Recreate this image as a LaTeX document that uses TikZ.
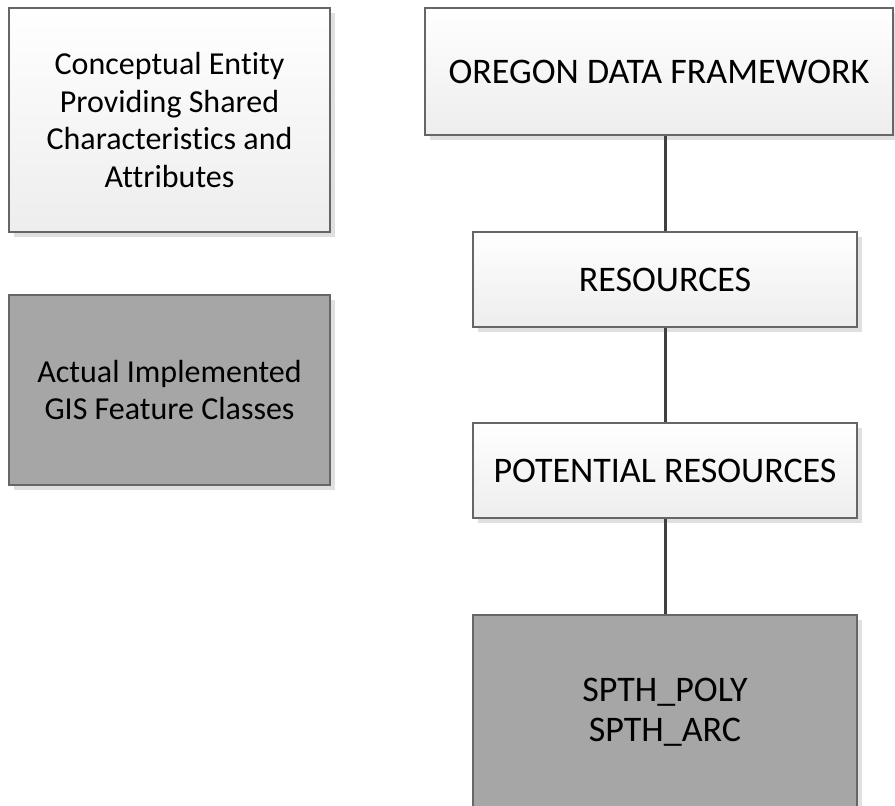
\documentclass[tikz,border=0pt]{standalone}
\usepackage{fontspec}
\setmainfont{Carlito}[Ligatures=NoCommon]
\usetikzlibrary{shadows}

\tikzstyle{box} = [draw=black!60, line width=1.3pt, align=center, inner sep=0pt,
  font=\fontsize{36}{40}\selectfont,
  drop shadow={shadow xshift=5pt, shadow yshift=-5pt, fill=black!12, opacity=1}]
\tikzstyle{concept} = [box, top color=white, bottom color=black!7]
\tikzstyle{feature} = [box, fill=black!35]
\tikzstyle{legend} = [font=\fontsize{32}{37.5}\selectfont, minimum width=321]
\tikzstyle{line} = [draw=black!75, line width=3pt]

\begin{document}
\begin{tikzpicture}[x=1pt, y=-1pt]
		\useasboundingbox (0,0) rectangle (895,806);
		% legend
		\node[concept, legend, minimum height=224] (legconcept) at (169.5,120) {Conceptual Entity\\Providing Shared\\Characteristics and\\Attributes};
		\node[feature, legend, minimum height=190] (legfeature) at (169.5,390) {Actual Implemented\\GIS Feature Classes};
		% hierarchy
		\node[concept, minimum width=468, minimum height=127] (odf) at (659,71.5) {OREGON DATA FRAMEWORK};
		\node[concept, minimum width=384, minimum height=95] (res) at (665,279.5) {RESOURCES};
		\node[concept, minimum width=384, minimum height=95] (potres) at (665,470.5) {POTENTIAL RESOURCES};
		\node[feature, minimum width=384, minimum height=194] (spth) at (665,712) {SPTH\_POLY\\SPTH\_ARC};
		\draw[line] (odf.south -| res.north) -- (res.north);
		\draw[line] (res) -- (potres);
		\draw[line] (potres) -- (spth);
	\end{tikzpicture}
\end{document}
